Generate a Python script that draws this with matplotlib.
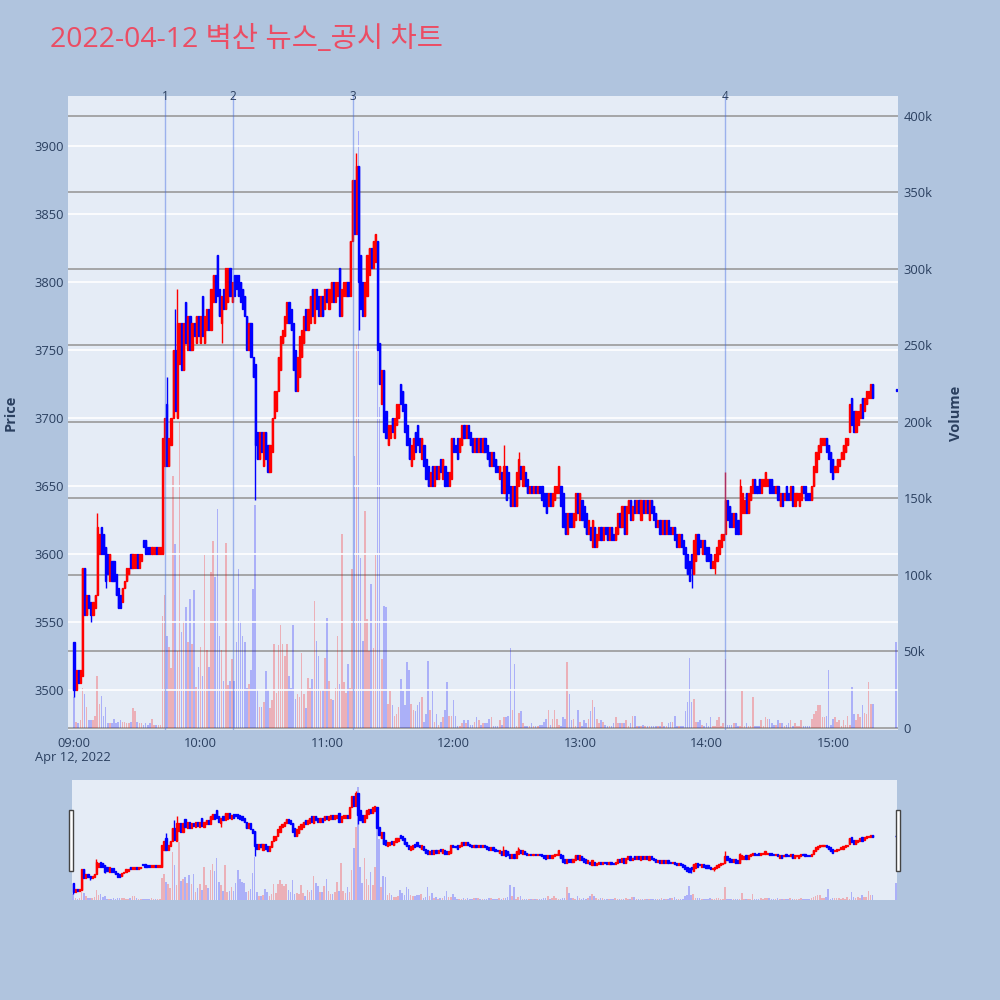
import numpy as np
import matplotlib.pyplot as plt
from matplotlib.patches import Rectangle
from matplotlib.transforms import blended_transform_factory

plt.rcParams['font.family'] = ['Open Sans', 'Noto Sans CJK KR', 'DejaVu Sans']

title = '2022-04-12 벽산 뉴스_공시 차트'

# 1-minute candles from 09:00 (minute 0) to 15:19, plus closing auction at 15:30
opens = [
    3535, 3500, 3515, 3505, 3510, 3590, 3555, 3570, 3565, 3555,
    3560, 3570, 3600, 3620, 3615, 3605, 3600, 3580, 3595, 3595,
    3585, 3575, 3570, 3565, 3575, 3580, 3585, 3600, 3590, 3590,
    3600, 3590, 3595, 3610, 3610, 3605, 3605, 3600, 3600, 3605,
    3600, 3600, 3600, 3665, 3710, 3665, 3680, 3700, 3750, 3700,
    3740, 3770, 3735, 3785, 3750, 3775, 3750, 3770, 3755, 3775,
    3755, 3790, 3755, 3765, 3780, 3765, 3785, 3805, 3820, 3795,
    3770, 3795, 3780, 3785, 3810, 3785, 3805, 3805, 3805, 3800,
    3795, 3790, 3775, 3750, 3770, 3745, 3740, 3690, 3670, 3690,
    3665, 3690, 3680, 3660, 3675, 3700, 3705, 3720, 3735, 3755,
    3760, 3770, 3785, 3780, 3770, 3750, 3720, 3730, 3745, 3755,
    3780, 3765, 3770, 3795, 3770, 3795, 3790, 3775, 3790, 3780,
    3795, 3780, 3785, 3800, 3785, 3790, 3810, 3775, 3790, 3790,
    3800, 3790, 3830, 3875, 3835, 3885, 3820, 3800, 3775, 3790,
    3805, 3825, 3810, 3815, 3830, 3755, 3710, 3735, 3705, 3680,
    3685, 3700, 3685, 3695, 3700, 3725, 3720, 3710, 3695, 3685,
    3665, 3670, 3690, 3695, 3685, 3670, 3680, 3670, 3665, 3650,
    3665, 3650, 3665, 3655, 3670, 3655, 3665, 3660, 3650, 3655,
    3685, 3680, 3685, 3675, 3680, 3695, 3685, 3695, 3690, 3685,
    3675, 3685, 3675, 3685, 3675, 3685, 3680, 3675, 3665, 3675,
    3670, 3665, 3655, 3660, 3645, 3665, 3660, 3650, 3635, 3650,
    3635, 3650, 3665, 3650, 3660, 3655, 3645, 3650, 3645, 3650,
    3645, 3650, 3650, 3645, 3645, 3635, 3645, 3635, 3640, 3645,
    3645, 3650, 3645, 3630, 3615, 3630, 3630, 3620, 3625, 3645,
    3625, 3640, 3635, 3630, 3615, 3620, 3605, 3620, 3605, 3610,
    3620, 3610, 3620, 3620, 3610, 3620, 3615, 3610, 3615, 3630,
    3620, 3635, 3615, 3630, 3640, 3625, 3640, 3630, 3640, 3625,
    3640, 3630, 3640, 3625, 3640, 3635, 3630, 3620, 3625, 3615,
    3625, 3615, 3625, 3620, 3615, 3620, 3615, 3605, 3615, 3610,
    3605, 3600, 3595, 3600, 3585, 3595, 3615, 3610, 3600, 3610,
    3605, 3605, 3600, 3590, 3590, 3595, 3600, 3605, 3610, 3615,
    3640, 3635, 3630, 3620, 3630, 3625, 3615, 3630, 3630, 3645,
    3630, 3640, 3645, 3655, 3650, 3655, 3645, 3650, 3650, 3650,
    3655, 3655, 3650, 3645, 3650, 3635, 3645, 3640, 3650, 3645,
    3640, 3650, 3635, 3640, 3635, 3640, 3650, 3650, 3645, 3645,
    3640, 3650, 3660, 3670, 3675, 3680, 3680, 3685, 3680, 3675,
    3670, 3660, 3660, 3665, 3670, 3670, 3675, 3680, 3690, 3715,
    3705, 3690, 3695, 3700, 3715, 3705, 3710, 3715, 3715, 3725,
    3720,
]
closes = [
    3500, 3515, 3505, 3515, 3590, 3555, 3570, 3560, 3555, 3565,
    3570, 3620, 3615, 3600, 3600, 3580, 3585, 3600, 3580, 3580,
    3570, 3560, 3560, 3575, 3580, 3590, 3590, 3590, 3600, 3600,
    3590, 3600, 3600, 3605, 3600, 3600, 3600, 3605, 3605, 3600,
    3605, 3605, 3685, 3700, 3665, 3685, 3700, 3750, 3705, 3770,
    3770, 3735, 3770, 3755, 3775, 3750, 3770, 3760, 3775, 3760,
    3775, 3760, 3775, 3780, 3765, 3795, 3805, 3785, 3790, 3775,
    3790, 3780, 3810, 3810, 3790, 3800, 3790, 3795, 3790, 3785,
    3780, 3775, 3750, 3770, 3745, 3730, 3680, 3670, 3690, 3675,
    3690, 3670, 3660, 3680, 3700, 3720, 3720, 3745, 3760, 3765,
    3775, 3785, 3770, 3765, 3735, 3720, 3745, 3760, 3765, 3775,
    3765, 3780, 3790, 3775, 3795, 3780, 3775, 3790, 3775, 3795,
    3785, 3795, 3800, 3785, 3800, 3800, 3775, 3795, 3800, 3800,
    3790, 3830, 3875, 3835, 3885, 3800, 3780, 3775, 3800, 3820,
    3825, 3810, 3830, 3835, 3750, 3725, 3735, 3690, 3685, 3695,
    3695, 3690, 3700, 3710, 3710, 3710, 3705, 3690, 3680, 3670,
    3680, 3685, 3675, 3680, 3675, 3685, 3665, 3655, 3650, 3660,
    3650, 3665, 3655, 3665, 3660, 3670, 3650, 3650, 3660, 3685,
    3675, 3675, 3670, 3685, 3695, 3685, 3695, 3685, 3680, 3675,
    3685, 3675, 3685, 3675, 3685, 3675, 3670, 3665, 3675, 3665,
    3660, 3660, 3665, 3645, 3665, 3640, 3645, 3635, 3650, 3635,
    3660, 3670, 3655, 3665, 3650, 3645, 3650, 3645, 3650, 3645,
    3650, 3645, 3640, 3635, 3630, 3645, 3635, 3645, 3650, 3650,
    3665, 3635, 3620, 3615, 3630, 3620, 3620, 3630, 3645, 3630,
    3645, 3625, 3620, 3615, 3625, 3610, 3625, 3605, 3615, 3620,
    3610, 3620, 3615, 3610, 3620, 3610, 3610, 3620, 3630, 3620,
    3635, 3615, 3635, 3640, 3625, 3635, 3630, 3640, 3630, 3640,
    3630, 3640, 3630, 3640, 3630, 3625, 3620, 3625, 3615, 3625,
    3615, 3625, 3615, 3615, 3620, 3610, 3605, 3615, 3605, 3600,
    3590, 3585, 3580, 3590, 3610, 3615, 3600, 3605, 3610, 3600,
    3595, 3595, 3590, 3595, 3600, 3605, 3610, 3615, 3615, 3640,
    3625, 3620, 3620, 3630, 3615, 3615, 3650, 3645, 3640, 3630,
    3645, 3650, 3655, 3645, 3645, 3645, 3655, 3655, 3660, 3655,
    3645, 3645, 3645, 3650, 3640, 3645, 3635, 3645, 3640, 3640,
    3650, 3635, 3645, 3645, 3645, 3650, 3645, 3640, 3640, 3640,
    3650, 3665, 3675, 3680, 3685, 3685, 3685, 3675, 3670, 3660,
    3655, 3665, 3670, 3670, 3675, 3680, 3685, 3685, 3710, 3695,
    3690, 3705, 3705, 3710, 3700, 3715, 3720, 3720, 3725, 3715,
    3720,
]
wick_high = {11: 3630, 44: 3730, 48: 3780, 49: 3795, 68: 3820, 134: 3895,
             204: 3680, 211: 3675, 309: 3660, 316: 3655}
wick_low = {0: 3495, 8: 3550, 15: 3575, 70: 3755, 86: 3640, 135: 3765,
            293: 3575, 304: 3585}

# volume in thousands of shares
volume_k = [
    20, 4, 3, 5, 26, 22, 14, 5, 5, 5, 8, 34, 16, 21, 8, 14, 3, 3, 3, 6,
    3, 4, 5, 4, 4, 3, 3, 4, 13, 11, 4, 3, 3, 2, 3, 2, 3, 6, 2, 2, 2, 2,
    73, 87, 60, 53, 39, 165, 120, 50, 200, 63, 70, 79, 56, 84, 55, 90, 27, 40,
    53, 34, 113, 51, 40, 102, 122, 99, 143, 60, 51, 31, 121, 28, 31, 45, 31, 56,
    104, 70, 60, 56, 26, 29, 38, 91, 146, 25, 14, 14, 17, 37, 25, 13, 18, 55, 23,
    54, 67, 55, 47, 55, 34, 26, 67, 19, 22, 20, 49, 22, 13, 33, 26, 32, 83, 57, 47,
    25, 25, 46, 72, 31, 19, 18, 26, 60, 29, 127, 30, 23, 42, 26, 104, 178, 250, 390, 111,
    57, 142, 71, 50, 94, 52, 113, 250, 210, 45, 80, 79, 16, 24, 15, 8, 9, 14, 32, 24,
    15, 43, 38, 16, 12, 11, 15, 17, 20, 4, 9, 44, 12, 24, 4, 9, 2, 4, 7, 12,
    30, 8, 8, 18, 8, 1, 1, 3, 5, 3, 5, 2, 2, 4, 7, 5, 2, 3, 3,
    3, 6, 7, 1, 1, 1, 5, 2, 7, 7, 8, 52, 12, 42, 1, 10, 11, 3, 1, 1,
    1, 3, 1, 1, 1, 2, 2, 4, 6, 12, 2, 6, 12, 6, 2, 1, 7, 6, 43, 22,
    5, 6, 1, 12, 4, 1, 5, 3, 6, 11, 18, 14, 6, 3, 5, 4, 2, 1, 1, 1,
    3, 7, 3, 3, 3, 3, 5, 1, 3, 8, 8, 1, 1, 1, 2, 1, 1, 1, 1, 1,
    1, 1, 1, 4, 1, 1, 3, 4, 4, 8, 1, 1, 1, 1, 11, 17, 46, 17, 19, 4,
    4, 5, 2, 1, 3, 1, 7, 1, 1, 5, 7, 1, 3, 45, 2, 2, 2, 3, 3, 1,
    1, 24, 1, 3, 1, 1, 20, 1, 1, 1, 5, 1, 7, 6, 6, 3, 2, 2, 5, 3,
    3, 1, 2, 3, 5, 1, 3, 1, 1, 5, 1, 1, 1, 1, 6, 9, 11, 15, 15, 7,
    7, 8, 38, 2, 6, 7, 4, 5, 1, 5, 2, 8, 2, 27, 9, 5, 9, 7, 15, 10,
    9, 30, 16, 16,
    56,
]

# news / disclosure events (minutes after 09:00)
event_minutes = [43.2, 75.4, 132.4, 308.9]
event_labels = ['1', '2', '3', '4']

tick_minutes = [0, 60, 120, 180, 240, 300, 360]
tick_labels = ['09:00', '10:00', '11:00', '12:00', '13:00', '14:00', '15:00']

minutes = np.r_[np.arange(380), 390]
o = np.array(opens, float)
c = np.array(closes, float)
vol = np.array(volume_k, float) * 1000
assert len(o) == len(c) == len(vol) == len(minutes), (len(o), len(c), len(vol))

hi = np.maximum(o, c)
lo = np.minimum(o, c)
for k, v in wick_high.items():
    hi[k] = v
for k, v in wick_low.items():
    lo[k] = v
up = c > o
cols = np.where(up, 'red', 'blue')

bg = '#B0C4DE'
plot_bg = '#E5ECF6'
tcol = '#2a3f5f'
price_lim = (3470.6, 3936.8)
vol_lim = (-1300, 413000)


def draw_candles(ax):
    ax.vlines(minutes, lo, hi, colors=cols, linewidth=1.0, zorder=3)
    body = np.maximum(np.abs(c - o), 1.0)
    ax.bar(minutes, body, bottom=np.minimum(o, c), width=0.55, color=cols,
           edgecolor=cols, linewidth=1.0, zorder=4)


def draw_volume(ax):
    ax.bar(minutes, vol, width=0.75, color=cols, alpha=0.25, linewidth=0, zorder=2)


fig = plt.figure(figsize=(10, 10), dpi=100, facecolor=bg)

# main chart: volume axes underneath, price axes on top
ax_v = fig.add_axes([0.068, 0.27, 0.83, 0.634], facecolor=plot_bg)
ax_p = ax_v.twinx()
ax_p.set_facecolor('none')

draw_volume(ax_v)
draw_candles(ax_p)

ax_v.set_xlim(-2.85, 390.9)
ax_v.set_ylim(*vol_lim)
ax_p.set_ylim(*price_lim)

ax_v.yaxis.tick_right()
ax_v.yaxis.set_label_position('right')
ax_p.yaxis.tick_left()
ax_p.yaxis.set_label_position('left')

vticks = np.arange(0, 400001, 50000)
ax_v.set_yticks(vticks)
ax_v.set_yticklabels(['0'] + ['%dk' % (v // 1000) for v in vticks[1:]])
ax_v.grid(axis='y', color='#9a9a9a', linewidth=1.2, zorder=0)
ax_v.set_axisbelow(True)

ax_p.set_yticks(np.arange(3500, 3901, 50))
ax_p.grid(axis='y', color='white', linewidth=1.2, zorder=0)
ax_p.set_axisbelow(True)

ax_v.set_xticks(tick_minutes)
ax_v.set_xticklabels(tick_labels)

for a in (ax_v, ax_p):
    for s in a.spines.values():
        s.set_visible(False)
    a.tick_params(length=0, labelsize=9.3, labelcolor=tcol)
ax_p.tick_params(axis='y', pad=3)
ax_v.tick_params(axis='y', pad=4)
ax_v.tick_params(axis='x', pad=5)

ax_p.set_ylabel('Price', fontsize=10.5, fontweight='bold', color=tcol, labelpad=12)
ax_v.set_ylabel('Volume', fontsize=10.5, fontweight='bold', color=tcol, labelpad=12)

fig.text(0.073, 1 - 0.757, 'Apr 12, 2022', ha='center', va='center',
         fontsize=9.3, color=tcol)

trans = blended_transform_factory(ax_p.transData, ax_p.transAxes)
for m, lab in zip(event_minutes, event_labels):
    ax_p.axvline(m, color='royalblue', alpha=0.45, linewidth=1.0, zorder=5)
    ax_p.text(m, 1.0, lab, transform=trans, ha='center', va='center',
              fontsize=8.5, color=tcol, clip_on=False, zorder=6)

fig.text(0.05, 1 - 0.040, title, ha='left', va='center', fontsize=20.5,
         color='#EB4D64')

# range slider
ax_s = fig.add_axes([0.072, 0.10, 0.825, 0.12], facecolor=plot_bg)
ax_s2 = ax_s.twinx()
draw_volume(ax_s)
draw_candles(ax_s2)
ax_s.set_xlim(-0.6, 390.6)
ax_s.set_ylim(*vol_lim)
ax_s2.set_ylim(*price_lim)
for a in (ax_s, ax_s2):
    a.set_xticks([])
    a.set_yticks([])
    for s in a.spines.values():
        s.set_visible(False)

for x0 in (0.0685, 0.8955):
    fig.patches.append(Rectangle((x0, 1 - 0.871), 0.0045, 0.061,
                                 transform=fig.transFigure, facecolor='white',
                                 edgecolor='#444444', linewidth=1.0))

fig.savefig('out.png', dpi=100, facecolor=bg)
